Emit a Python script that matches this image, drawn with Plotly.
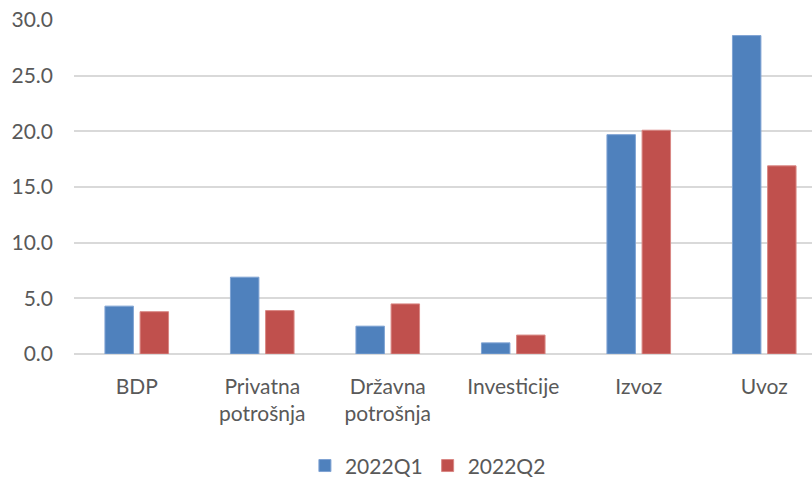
import plotly.graph_objects as go

categories = ["BDP", "Privatna<br>potrošnja", "Državna<br>potrošnja", "Investicije", "Izvoz", "Uvoz"]
q1_values = [4.3, 6.9, 2.5, 1.0, 19.7, 28.6]
q2_values = [3.8, 3.9, 4.5, 1.7, 20.1, 16.9]
series_names = ["2022Q1", "2022Q2"]
y_ticks = [0, 5, 10, 15, 20, 25, 30]

FONT = "Lato"
TXT = "#595959"
FS = 21

fig = go.Figure()
fig.add_trace(go.Bar(x=categories, y=q1_values, name=series_names[0],
                     marker=dict(color="#4F81BD", line=dict(color="#7FA3D3", width=1))))
fig.add_trace(go.Bar(x=categories, y=q2_values, name=series_names[1],
                     marker=dict(color="#C0504D", line=dict(color="#D98784", width=1))))

fig.update_layout(
    width=827, height=477,
    margin=dict(l=74, r=0, t=20, b=123, autoexpand=False),
    paper_bgcolor="white", plot_bgcolor="white",
    barmode="group", bargap=0.44, bargroupgap=0.19,
    font=dict(family=FONT, size=FS, color=TXT),
    showlegend=True,
    legend=dict(orientation="h", x=0.47, xanchor="center", y=-0.335, yanchor="middle",
                font=dict(family=FONT, size=FS, color=TXT),
                itemwidth=30, traceorder="normal"),
    xaxis=dict(range=[-0.5, 5.5], showgrid=False, showline=False, zeroline=False,
               ticks="", tickfont=dict(family=FONT, size=FS, color=TXT),
               ticklabelstandoff=18, automargin=False),
    yaxis=dict(range=[0, 30], tickvals=y_ticks, tickformat=".1f",
               showgrid=True, gridcolor="#D9D9D9", gridwidth=1.5,
               zeroline=True, zerolinecolor="#D9D9D9", zerolinewidth=1.5,
               showline=False, ticks="", ticklabelstandoff=20, automargin=False,
               tickfont=dict(family=FONT, size=FS, color=TXT)),
)

fig.write_html("out.html", config={"displayModeBar": False},
               post_script=("document.body.style.margin='0';"
                            "document.body.style.overflow='hidden';"
                            "document.documentElement.style.overflow='hidden';"))
